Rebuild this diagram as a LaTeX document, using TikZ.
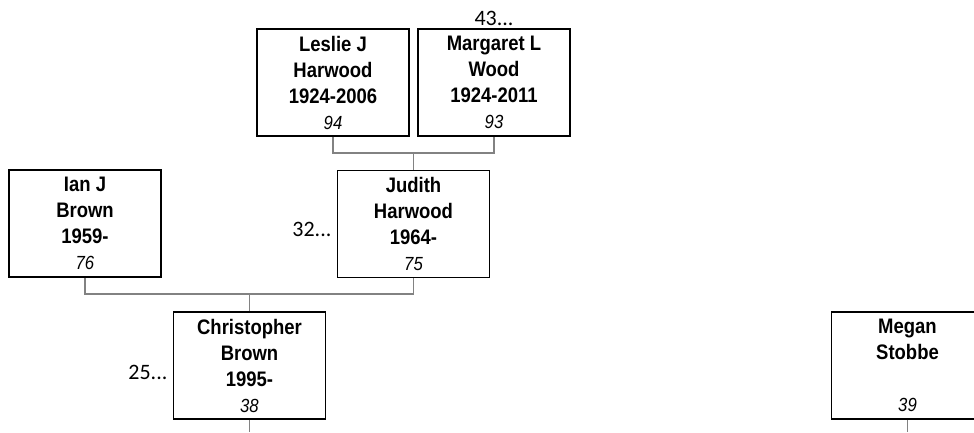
\documentclass[tikz,border=0pt]{standalone}
\usepackage{fontspec}
\setmainfont{Liberation Sans}[FakeStretch=0.88]
\newfontfamily\countfont{Carlito}
\usepackage{tikz}
\usetikzlibrary{positioning}
\usetikzlibrary{shapes,backgrounds}

\definecolor{linkgray}{RGB}{130,130,130}
\newcommand{\agenum}[1]{{\fontsize{19}{26}\itshape\mdseries\selectfont #1}}

\begin{document}
\begin{tikzpicture}[x=1pt,y=-1pt,
  person/.style={draw,line width=1.8pt,rectangle,minimum width=152pt,minimum height=107pt,
    align=center,font=\fontsize{21}{26}\bfseries\selectfont,inner sep=0pt},
  link/.style={draw=linkgray,line width=1.8pt},
  more/.style={font=\fontsize{22}{24}\countfont,inner sep=1pt}]
\useasboundingbox (0,0) rectangle (974,432);
\clip (0,0) rectangle (974,432);

% draw boxes
\node[person] (leslie) at (333,82.5) {Leslie J\\Harwood\\1924-2006\\\agenum{94}};
\node[person] (margaret) at (494,82.5) {Margaret L\\Wood\\1924-2011\\\agenum{93}};
\node[person] (ian) at (85,223.5) {Ian J\\Brown\\1959-\\\agenum{76}};
\node[person] (judith) at (413.5,224) {Judith\\Harwood\\1964-\\\agenum{75}};
\node[person] (chris) at (249.5,365.5) {Christopher\\Brown\\1995-\\\agenum{38}};
\node[person] (megan) at (907.5,365.5) {Megan\\Stobbe\\~\\\agenum{39}};

% draw labels
\node[more,above=1pt of margaret.north] (margaretmore) {43...};
\node[more,left=4pt of judith.west,yshift=-5pt] (judithmore) {32...};
\node[more,left=4pt of chris.west,yshift=-7pt] (chrismore) {25...};

% draw connectors
\coordinate (bottom) at (0,432);
\draw[link] (leslie.south) -- ++(0,16) coordinate (lmbar) -| (margaret.south);
\draw[link] (judith.north) -- (judith.north |- lmbar);
\draw[link] (ian.south) -- ++(0,16) coordinate (ijbar) -| (judith.south);
\draw[link] (chris.north) -- (chris.north |- ijbar);
\draw[link] (chris.south) -- (chris.south |- bottom);
\draw[link] (megan.south) -- (megan.south |- bottom);

\end{tikzpicture}
\end{document}
